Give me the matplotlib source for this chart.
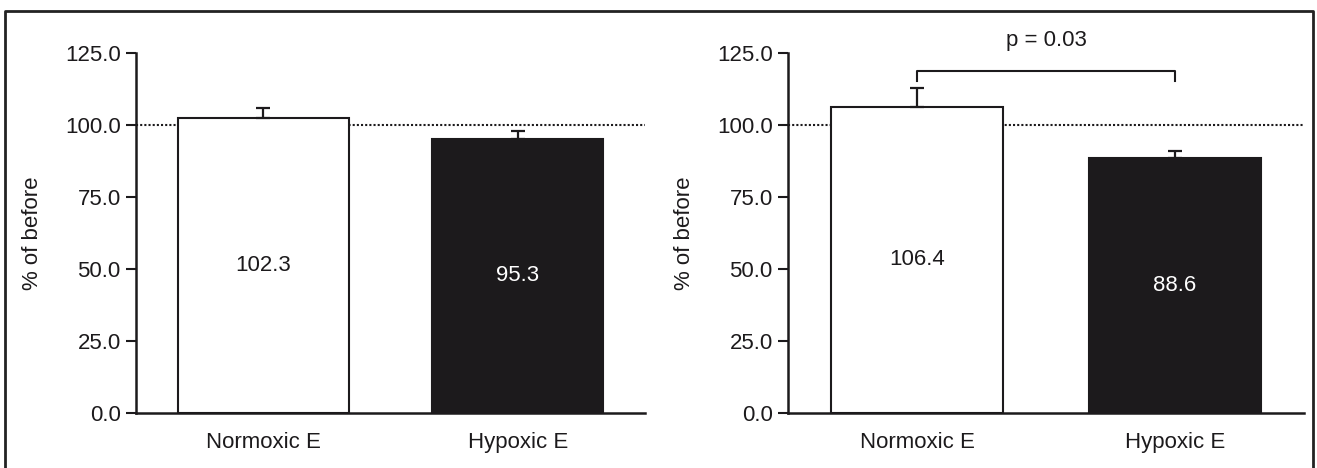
import numpy as np
import matplotlib.pyplot as plt

plt.rcParams['font.family'] = ['Liberation Sans', 'DejaVu Sans']

groups = ['Normoxic E', 'Hypoxic E']
left_vals = [102.3, 95.3]
left_err = [3.6, 2.7]
right_vals = [106.4, 88.6]
right_err = [6.6, 2.5]
p_text = 'p = 0.03'
yticks = [0, 25, 50, 75, 100, 125]

fig = plt.figure(figsize=(13.17, 4.68), dpi=100)
W, H = 1317, 468
FS = 16
INK = '#1c1a1c'

# outer frame (open at the bottom)
fig.add_artist(plt.Line2D([5 / W, 5 / W, 1313 / W, 1313 / W],
                          [0, 1 - 11 / H, 1 - 11 / H, 0],
                          transform=fig.transFigure, color='#222222', lw=2))


def panel(left_px, right_px, vals, errs):
    ax = fig.add_axes([left_px / W, 1 - 413 / H, (right_px - left_px) / W, (413 - 53) / H])
    x = np.arange(len(vals))
    ax.bar(x, vals, width=0.67, color=['white', INK],
           edgecolor=INK, linewidth=1.5, zorder=2)
    ax.errorbar(x, vals, yerr=[np.zeros(len(errs)), errs], fmt='none',
                ecolor=INK, elinewidth=1.6, capsize=5, capthick=1.6, zorder=3)
    ax.axhline(100, color=INK, lw=1.5, ls=(0, (1, 1)), zorder=1)
    for xi, v, c in zip(x, vals, [INK, 'white']):
        ax.text(xi, v / 2, f'{v:.1f}', ha='center', va='center',
                fontsize=FS, color=c, zorder=4)
    ax.set_xlim(-0.5, 1.5)
    ax.set_ylim(0, 125)
    ax.set_yticks(yticks)
    ax.set_yticklabels([f'{t:.1f}' for t in yticks])
    ax.set_xticks(x)
    ax.set_xticklabels(groups)
    ax.tick_params(axis='x', length=0, pad=14, labelsize=FS, colors=INK)
    ax.tick_params(axis='y', length=7, width=1.5, pad=4, labelsize=FS, colors=INK)
    ax.set_ylabel('% of before', fontsize=FS, labelpad=16, color=INK)
    for s in ['top', 'right']:
        ax.spines[s].set_visible(False)
    for s in ['left', 'bottom']:
        ax.spines[s].set_linewidth(1.8)
        ax.spines[s].set_color(INK)
    return ax


ax1 = panel(136, 645, left_vals, left_err)
ax2 = panel(788, 1304, right_vals, right_err)

# significance bracket
ax2.plot([0, 0, 1, 1], [115.2, 118.8, 118.8, 115.2], color=INK, lw=1.5, clip_on=False)
ax2.text(0.5, 129.5, p_text, ha='center', va='center', fontsize=FS, color=INK, clip_on=False)

fig.savefig('out.png', dpi=100)
